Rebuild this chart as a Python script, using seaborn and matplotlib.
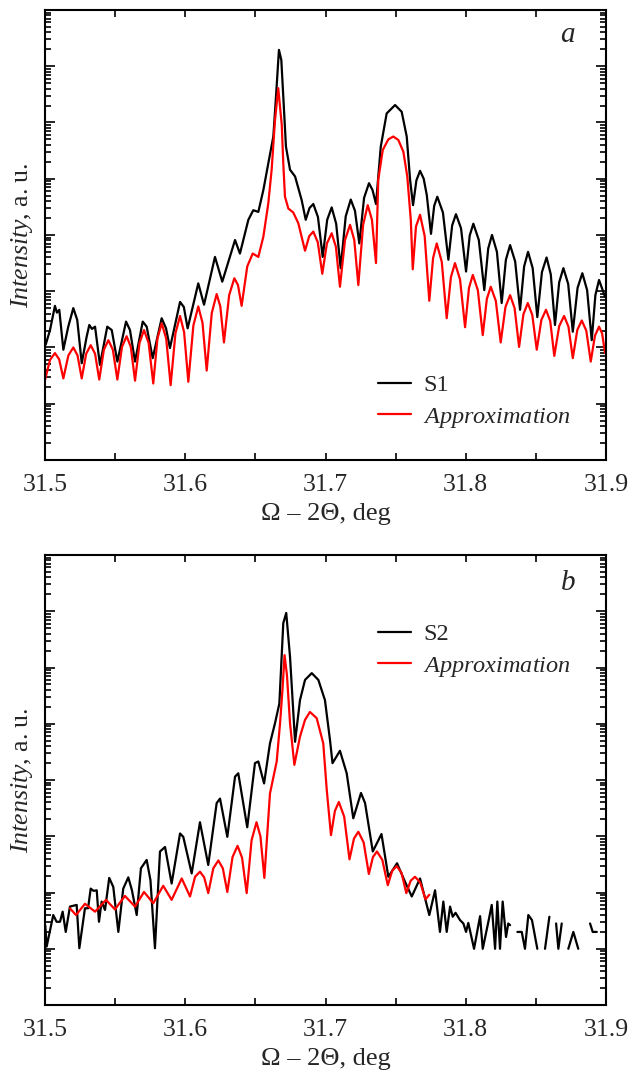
import numpy as np
import pandas as pd
import matplotlib
matplotlib.use('Agg')
import matplotlib.pyplot as plt
import seaborn as sns
from matplotlib.lines import Line2D
from matplotlib.ticker import LogLocator, NullFormatter, MultipleLocator, FormatStrFormatter

# Panel a: measured S1 curve (x in deg, y as log10 intensity)
a_s1_x = [31.5005, 31.5036, 31.5071, 31.5085, 31.5102, 31.5131, 31.5166, 31.5202, 31.5230, 31.5262,
          31.5297, 31.5316, 31.5335, 31.5357, 31.5392, 31.5444, 31.5476, 31.5516, 31.5578, 31.5606,
          31.5642, 31.5697, 31.5725, 31.5768, 31.5832, 31.5863, 31.5891, 31.5963, 31.5990, 31.6017,
          31.6093, 31.6134, 31.6212, 31.6264, 31.6355, 31.6390, 31.6450, 31.6485, 31.6521, 31.6557,
          31.6592, 31.6628, 31.6647, 31.6668, 31.6685, 31.6699, 31.6718, 31.6747, 31.6783, 31.6830,
          31.6859, 31.6886, 31.6913, 31.6946, 31.6980, 31.7012, 31.7044, 31.7076, 31.7108, 31.7144,
          31.7180, 31.7210, 31.7241, 31.7275, 31.7310, 31.7335, 31.7360, 31.7394, 31.7436, 31.7496,
          31.7543, 31.7579, 31.7603, 31.7624, 31.7648, 31.7674, 31.7700, 31.7722, 31.7752, 31.7775,
          31.7797, 31.7837, 31.7876, 31.7903, 31.7930, 31.7966, 31.8002, 31.8028, 31.8054, 31.8093,
          31.8132, 31.8160, 31.8187, 31.8222, 31.8256, 31.8286, 31.8316, 31.8352, 31.8387, 31.8416,
          31.8444, 31.8477, 31.8510, 31.8543, 31.8576, 31.8606, 31.8636, 31.8666, 31.8696, 31.8730,
          31.8763, 31.8797, 31.8831, 31.8865, 31.8898, 31.8924, 31.8950, 31.8993]
a_s1_y = [2.05, 2.31, 2.74, 2.62, 2.67, 1.96, 2.37, 2.70, 2.49, 1.72,
          2.19, 2.40, 2.33, 2.37, 1.69, 2.37, 2.31, 1.75, 2.46, 2.31,
          1.75, 2.46, 2.37, 1.81, 2.52, 2.34, 1.99, 2.81, 2.72, 2.34,
          3.14, 2.76, 3.61, 3.17, 3.91, 3.67, 4.27, 4.44, 4.41, 4.80,
          5.27, 5.75, 6.46, 7.29, 7.11, 6.46, 5.57, 5.16, 5.04, 4.62,
          4.27, 4.48, 4.55, 4.32, 3.61, 4.27, 4.49, 4.20, 3.41, 4.33,
          4.63, 4.43, 3.85, 4.66, 4.92, 4.80, 4.55, 5.57, 6.16, 6.31,
          6.19, 5.75, 4.98, 4.53, 4.97, 5.14, 5.00, 4.71, 4.02, 4.52,
          4.68, 4.40, 3.56, 4.17, 4.37, 4.12, 3.35, 3.99, 4.20, 3.91,
          3.02, 3.76, 4.00, 3.70, 2.79, 3.56, 3.82, 3.53, 2.67, 3.44,
          3.70, 3.41, 2.54, 3.34, 3.60, 3.30, 2.40, 3.16, 3.41, 3.13,
          2.28, 3.06, 3.32, 3.02, 2.13, 2.93, 3.20, 2.90]

# Panel a: approximation
a_fit_x = [31.5000, 31.5036, 31.5071, 31.5101, 31.5131, 31.5167, 31.5202, 31.5232, 31.5262, 31.5294,
           31.5326, 31.5357, 31.5387, 31.5420, 31.5452, 31.5484, 31.5516, 31.5549, 31.5582, 31.5612,
           31.5642, 31.5674, 31.5706, 31.5739, 31.5772, 31.5802, 31.5832, 31.5864, 31.5896, 31.5930,
           31.5963, 31.5992, 31.6022, 31.6058, 31.6093, 31.6123, 31.6153, 31.6189, 31.6224, 31.6250,
           31.6276, 31.6313, 31.6350, 31.6376, 31.6402, 31.6442, 31.6481, 31.6521, 31.6557, 31.6592,
           31.6616, 31.6640, 31.6663, 31.6688, 31.6699, 31.6711, 31.6735, 31.6770, 31.6806, 31.6854,
           31.6884, 31.6913, 31.6945, 31.6977, 31.7010, 31.7044, 31.7074, 31.7103, 31.7139, 31.7175,
           31.7205, 31.7234, 31.7268, 31.7301, 31.7331, 31.7360, 31.7376, 31.7408, 31.7448, 31.7483,
           31.7519, 31.7555, 31.7583, 31.7608, 31.7622, 31.7645, 31.7674, 31.7707, 31.7740, 31.7767,
           31.7793, 31.7829, 31.7864, 31.7894, 31.7923, 31.7959, 31.7995, 31.8023, 31.8050, 31.8086,
           31.8121, 31.8150, 31.8178, 31.8214, 31.8249, 31.8283, 31.8316, 31.8348, 31.8380, 31.8411,
           31.8442, 31.8474, 31.8506, 31.8539, 31.8572, 31.8602, 31.8631, 31.8666, 31.8701, 31.8732,
           31.8763, 31.8795, 31.8827, 31.8859, 31.8891, 31.8921, 31.8950, 31.8972, 31.8993]
a_fit_y = [1.42, 1.78, 1.90, 1.79, 1.45, 1.86, 2.00, 1.86, 1.45, 1.89,
           2.04, 1.89, 1.43, 1.96, 2.13, 1.96, 1.43, 2.01, 2.20, 2.01,
           1.41, 2.08, 2.31, 2.08, 1.36, 2.16, 2.43, 2.16, 1.33, 2.25,
           2.56, 2.27, 1.39, 2.39, 2.73, 2.44, 1.59, 2.61, 2.95, 2.73,
           2.09, 2.93, 3.23, 3.11, 2.74, 3.44, 3.67, 3.61, 3.97, 4.56,
           5.16, 6.04, 6.61, 5.96, 5.27, 4.68, 4.47, 4.40, 4.21, 3.72,
           3.98, 4.06, 3.87, 3.31, 3.85, 4.03, 3.79, 3.08, 3.91, 4.18,
           3.91, 3.11, 4.18, 4.53, 4.27, 3.50, 4.98, 5.51, 5.70, 5.75,
           5.69, 5.48, 5.04, 4.27, 3.39, 4.15, 4.36, 3.98, 2.83, 3.59,
           3.85, 3.52, 2.52, 3.25, 3.50, 3.21, 2.36, 3.06, 3.29, 3.02,
           2.22, 2.86, 3.08, 2.83, 2.09, 2.72, 2.93, 2.70, 2.01, 2.59,
           2.79, 2.58, 1.96, 2.49, 2.67, 2.47, 1.85, 2.38, 2.56, 2.37,
           1.81, 2.31, 2.48, 2.30, 1.75, 2.21, 2.37, 2.25, 1.90]

# Panel b: measured S2 curve (None = no counts, line is broken)
b_s2_x = [31.5002, 31.5012, 31.5059, 31.5083, 31.5107, 31.5126, 31.5148, 31.5178, 31.5226, 31.5245,
          31.5285, 31.5307, 31.5326, 31.5346, 31.5369, 31.5385, 31.5404, 31.5428, 31.5458, 31.5487,
          31.5523, 31.5558, 31.5594, 31.5620, 31.5654, 31.5684, 31.5725, 31.5752, 31.5784, 31.5820,
          31.5856, 31.5903, 31.5963, 31.5986, 31.6046, 31.6105, 31.6164, 31.6224, 31.6248, 31.6300,
          31.6355, 31.6378, 31.6442, 31.6497, 31.6521, 31.6562, 31.6604, 31.6640, 31.6671, 31.6699,
          31.6720, 31.6747, 31.6783, 31.6818, 31.6854, 31.6902, 31.6949, 31.6996, 31.7032, 31.7050,
          31.7103, 31.7151, 31.7198, 31.7253, 31.7282, 31.7337, 31.7399, 31.7448, 31.7510, 31.7567,
          31.7615, 31.7674, 31.7740, 31.7781, 31.7816, 31.7840, 31.7864, 31.7888, 31.7907, 31.7927,
          31.7959, 31.7983, 31.8002, 31.8018, 31.8059, 31.8102, 31.8121, 31.8161, 31.8185, 31.8209,
          31.8225, 31.8244, 31.8263, 31.8287, 31.8303, 31.8316, 31.8340, 31.8368, 31.8399, 31.8422,
          31.8446, 31.8472, 31.8510, 31.8540, 31.8565, 31.8596, 31.8620, 31.8644, 31.8660, 31.8684,
          31.8710, 31.8731, 31.8767, 31.8802, 31.8850, 31.8886, 31.8905, 31.8934]
b_s2_y = [1.42, 1.04, 1.60, 1.48, 1.48, 1.66, 1.30, 1.75, 1.78, 1.01,
          1.72, 1.72, 2.07, 2.03, 2.04, 1.48, 1.84, 1.69, 2.26, 2.10,
          1.30, 2.07, 2.27, 2.04, 1.60, 2.43, 2.58, 2.22, 1.01, 2.73,
          2.81, 2.16, 3.05, 2.99, 2.34, 3.25, 2.49, 3.59, 3.67, 2.99,
          4.06, 4.12, 3.16, 4.30, 4.33, 3.94, 4.65, 5.01, 5.36, 6.79,
          6.97, 6.19, 4.68, 5.42, 5.78, 5.90, 5.78, 5.42, 4.71, 4.30,
          4.52, 4.12, 3.32, 3.77, 3.59, 2.73, 3.04, 2.28, 2.52, 2.19,
          1.93, 2.25, 1.60, 2.04, 1.30, 1.84, 1.30, 1.75, 1.57, 1.64,
          1.51, 1.45, 1.30, 1.46, 1.00, 1.58, 1.00, 1.48, 1.78, 1.00,
          1.84, 1.00, 1.84, 1.21, 1.45, 1.42, None, 1.30, 1.30, 1.00,
          1.60, 1.51, 1.00, None, 1.00, 1.57, None, 1.45, 1.00, 1.45,
          None, 1.00, 1.30, 1.00, None, 1.45, 1.30, 1.30]

# Panel b: approximation
b_fit_x = [31.5178, 31.5221, 31.5285, 31.5357, 31.5435, 31.5499, 31.5570, 31.5642, 31.5706, 31.5772,
           31.5843, 31.5903, 31.5975, 31.6034, 31.6070, 31.6105, 31.6135, 31.6164, 31.6200, 31.6236,
           31.6268, 31.6300, 31.6337, 31.6373, 31.6405, 31.6438, 31.6473, 31.6508, 31.6536, 31.6564,
           31.6604, 31.6652, 31.6676, 31.6693, 31.6708, 31.6725, 31.6747, 31.6778, 31.6818, 31.6854,
           31.6889, 31.6937, 31.6984, 31.7009, 31.7039, 31.7067, 31.7095, 31.7133, 31.7171, 31.7203,
           31.7234, 31.7272, 31.7309, 31.7338, 31.7367, 31.7405, 31.7444, 31.7476, 31.7508, 31.7542,
           31.7576, 31.7607, 31.7638, 31.7675, 31.7713, 31.7740]
b_fit_y = [1.72, 1.60, 1.80, 1.66, 1.87, 1.70, 1.94, 1.75, 2.01, 1.81,
           2.12, 1.87, 2.25, 1.93, 2.28, 2.37, 2.27, 1.99, 2.43, 2.57,
           2.43, 2.01, 2.63, 2.83, 2.62, 1.99, 2.93, 3.25, 3.00, 2.26,
           3.76, 4.33, 5.01, 5.60, 6.22, 5.87, 5.01, 4.27, 4.77, 5.07,
           5.21, 5.10, 4.65, 3.82, 3.02, 3.45, 3.61, 3.35, 2.59, 2.96,
           3.08, 2.89, 2.33, 2.63, 2.73, 2.58, 2.13, 2.39, 2.47, 2.35,
           1.99, 2.21, 2.28, 2.18, 1.88, 1.96]

sns.set_style('ticks')
plt.rcParams['font.family'] = ['Liberation Serif', 'DejaVu Serif']
plt.rcParams['mathtext.fontset'] = 'custom'
plt.rcParams['mathtext.rm'] = 'Liberation Serif'
plt.rcParams['mathtext.it'] = 'Liberation Serif:italic'


def curve_frame(x, logy):
    df = pd.DataFrame({'x': x, 'logy': np.array(logy, dtype=float)})
    df['y'] = 10 ** df['logy']
    # a missing value starts a new line segment
    df['seg'] = df['y'].isna().cumsum()
    return df.dropna()


def style_axes(ax):
    ax.set_xlim(31.5, 31.9)
    ax.set_yscale('log')
    ax.set_ylim(1, 1e8)
    ax.xaxis.set_major_locator(MultipleLocator(0.1))
    ax.xaxis.set_minor_locator(MultipleLocator(0.05))
    ax.xaxis.set_major_formatter(FormatStrFormatter('%.1f'))
    ax.yaxis.set_major_locator(LogLocator(base=10, numticks=20))
    ax.yaxis.set_minor_locator(LogLocator(base=10, subs=np.arange(2, 10), numticks=20))
    ax.yaxis.set_major_formatter(NullFormatter())
    ax.yaxis.set_minor_formatter(NullFormatter())
    ax.tick_params(which='both', direction='in', top=True, right=True, width=1.2, color='black')
    ax.tick_params(axis='x', which='both', length=5, labelsize=18.5, pad=10)
    ax.tick_params(axis='y', which='major', length=7)
    ax.tick_params(axis='y', which='minor', length=4)
    for s in ax.spines.values():
        s.set_linewidth(1.5)
        s.set_color('black')
    ax.set_xlabel('Ω – 2Θ, deg', fontsize=19, labelpad=5)
    ax.set_ylabel(r'$\it{Intensity}$, a. u.', fontsize=18.5, labelpad=4)


fig = plt.figure(figsize=(6.29, 10.70), dpi=100)
ax_a = fig.add_axes([0.0715, 0.5701, 0.892, 0.4206])
ax_b = fig.add_axes([0.0715, 0.0607, 0.892, 0.4206])

panels = [
    (ax_a, a_s1_x, a_s1_y, a_fit_x, a_fit_y, 'S1', 'a', (0.594, 0.190), 0.944),
    (ax_b, b_s2_x, b_s2_y, b_fit_x, b_fit_y, 'S2', 'b', (0.594, 0.848), 0.938),
]

for ax, mx, my, fx, fy, name, letter, leg_pos, let_y in panels:
    sns.lineplot(data=curve_frame(mx, my), x='x', y='y', units='seg', estimator=None,
                 sort=False, color='black', linewidth=1.6, ax=ax, legend=False)
    sns.lineplot(data=curve_frame(fx, fy), x='x', y='y', units='seg', estimator=None,
                 sort=False, color='#ff0000', linewidth=1.6, ax=ax, legend=False)
    style_axes(ax)
    handles = [Line2D([], [], color='black', lw=1.6), Line2D([], [], color='#ff0000', lw=1.6)]
    ax.legend(handles, [name, r'$\it{Approximation}$'], loc='upper left', bbox_to_anchor=leg_pos,
              frameon=False, fontsize=17.5, handlelength=1.35, handletextpad=0.5,
              labelspacing=0.38, borderpad=0, borderaxespad=0)
    ax.text(0.932, let_y, letter, transform=ax.transAxes, fontsize=21, style='italic',
            ha='center', va='center')

fig.savefig('out.png', dpi=100)
